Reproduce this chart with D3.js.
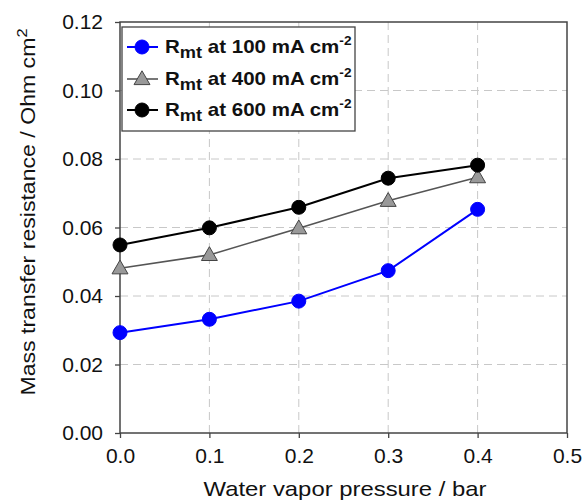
<!DOCTYPE html>
<html>
<head>
<meta charset="utf-8">
<script src="https://cdn.jsdelivr.net/npm/d3@7"></script>
<style>
  html, body { margin: 0; padding: 0; background: #fff; }
  svg { display: block; font-family: "Liberation Sans", Arial, sans-serif; }
</style>
</head>
<body>
<svg id="chart" width="585" height="501"></svg>
<script>
// Water vapor pressure (bar)
const pressure = [0.0, 0.1, 0.2, 0.3, 0.4];
// Mass transfer resistance (Ohm cm2) at three current densities
const rmt100 = [0.0293, 0.0332, 0.0385, 0.0474, 0.0653];
const rmt400 = [0.0481, 0.0520, 0.0598, 0.0678, 0.0747];
const rmt600 = [0.0549, 0.0599, 0.0659, 0.0744, 0.0782];
const seriesLabels = ["100", "400", "600"];
const xTicks = [0.0, 0.1, 0.2, 0.3, 0.4, 0.5];
const yTicks = [0.00, 0.02, 0.04, 0.06, 0.08, 0.10, 0.12];

const svg = d3.select("#chart");
const m = { left: 120, right: 567, top: 22, bottom: 433 };

const x = d3.scaleLinear().domain([0, 0.5]).range([m.left, m.right]);
const y = d3.scaleLinear().domain([0, 0.12]).range([m.bottom, m.top]);

// Dashed grid
const grid = svg.append("g").attr("stroke", "#c8c8c8").attr("stroke-width", 1)
  .attr("stroke-dasharray", "8,5");
grid.selectAll("line.v").data(xTicks.slice(1, -1)).join("line")
  .attr("x1", d => x(d)).attr("x2", d => x(d))
  .attr("y1", m.top).attr("y2", m.bottom);
grid.selectAll("line.h").data(yTicks.slice(1, -1)).join("line")
  .attr("x1", m.left).attr("x2", m.right)
  .attr("y1", d => y(d)).attr("y2", d => y(d));

// Axes
const fmtX = d3.format(".1f"), fmtY = d3.format(".2f");
const xAxis = svg.append("g").attr("transform", `translate(0,${m.bottom})`)
  .call(d3.axisBottom(x).tickValues(xTicks).tickFormat(fmtX).tickSize(5).tickPadding(9));
const yAxis = svg.append("g").attr("transform", `translate(${m.left},0)`)
  .call(d3.axisLeft(y).tickValues(yTicks).tickFormat(fmtY).tickSize(5).tickPadding(12));
[xAxis, yAxis].forEach(a => {
  a.select(".domain").remove();
  a.selectAll("line").attr("stroke", "#444").attr("stroke-width", 1.3);
  a.selectAll("text").attr("fill", "#111").style("font-size", "21px")
    .style("font-family", "'Liberation Sans', Arial, sans-serif");
});
xAxis.selectAll("text").attr("dy", "0.75em");

// Frame
svg.append("rect").attr("x", m.left).attr("y", m.top)
  .attr("width", m.right - m.left).attr("height", m.bottom - m.top)
  .attr("fill", "none").attr("stroke", "#444").attr("stroke-width", 1.5);

// Series
const series = [
  { values: rmt100, line: "#0000ff", fill: "#0000ff", stroke: "#0000ff", shape: "circle", lw: 2 },
  { values: rmt400, line: "#555555", fill: "#999999", stroke: "#444444", shape: "triangle", lw: 1.6 },
  { values: rmt600, line: "#000000", fill: "#000000", stroke: "#000000", shape: "circle", lw: 2 }
];
const lineGen = d3.line().x((d, i) => x(pressure[i])).y(d => y(d));
const triSym = d3.symbol().type(d3.symbolTriangle).size(110);

function drawMarker(g, s, cx, cy) {
  if (s.shape === "circle") {
    g.append("circle").attr("cx", cx).attr("cy", cy).attr("r", 7)
      .attr("fill", s.fill).attr("stroke", s.stroke).attr("stroke-width", 1);
  } else {
    g.append("path").attr("d", triSym()).attr("transform", `translate(${cx},${cy + 1})`)
      .attr("fill", s.fill).attr("stroke", s.stroke).attr("stroke-width", 1);
  }
}

series.forEach(s => {
  const g = svg.append("g");
  g.append("path").datum(s.values).attr("d", lineGen)
    .attr("fill", "none").attr("stroke", s.line).attr("stroke-width", s.lw);
  s.values.forEach((v, i) => drawMarker(g, s, x(pressure[i]), y(v)));
});

// Legend
const lg = svg.append("g");
lg.append("rect").attr("x", 122).attr("y", 27).attr("width", 233).attr("height", 104)
  .attr("fill", "#fff").attr("stroke", "#444").attr("stroke-width", 1.3);
const rowY = [47, 79, 110];
series.forEach((s, i) => {
  const yy = rowY[i];
  lg.append("line").attr("x1", 127).attr("x2", 158).attr("y1", yy).attr("y2", yy)
    .attr("stroke", s.line).attr("stroke-width", s.lw);
  drawMarker(lg, s, 142, yy);
  const t = lg.append("text").attr("transform", `translate(165,${yy + 6}) scale(1.14,1)`)
    .attr("fill", "#111").style("font-size", "18px").style("font-weight", "bold");
  t.append("tspan").text("R");
  t.append("tspan").attr("dy", 5).style("font-size", "16px").text("mt");
  t.append("tspan").attr("dy", -5).text(` at ${seriesLabels[i]} mA cm`);
  t.append("tspan").attr("dy", -8).style("font-size", "12px").text("-2");
});

// Axis titles
svg.append("text").attr("x", 345).attr("y", 496)
  .attr("text-anchor", "middle").attr("fill", "#111").style("font-size", "21px")
  .attr("textLength", 283).attr("lengthAdjust", "spacingAndGlyphs")
  .text("Water vapor pressure / bar");
const yt = svg.append("text").attr("transform", "translate(35,212) rotate(-90) scale(1.1,1)")
  .attr("text-anchor", "middle").attr("fill", "#111").style("font-size", "21px");
yt.append("tspan").text("Mass transfer resistance / Ohm cm");
yt.append("tspan").attr("dy", -8).style("font-size", "15px").text("2");
</script>
</body>
</html>
